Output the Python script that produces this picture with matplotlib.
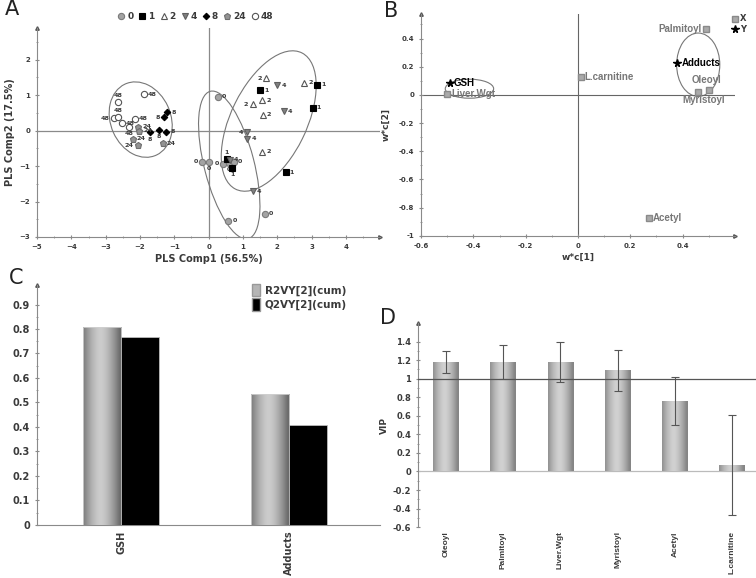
import numpy as np
import matplotlib
matplotlib.use('Agg')
import matplotlib.pyplot as plt
from matplotlib.patches import Ellipse, Patch
from matplotlib.lines import Line2D

plt.rcParams['font.family'] = 'DejaVu Sans'

# ---- panel A: PLS scores, one list per time group
groups = ['0', '1', '2', '4', '8', '24', '48']
score_x = {
    '0': [0.27, -0.18, 0.0, 0.42, 0.58, 0.73, 0.57, 1.64],
    '1': [1.49, 3.16, 3.03, 0.53, 0.69, 2.24],
    '2': [1.68, 2.79, 1.56, 1.28, 1.57, 1.56],
    '4': [2.0, 2.19, 1.13, 1.13, 1.29, 0.62],
    '8': [-1.2, -1.3, -1.7, -1.45, -1.24],
    '24': [-2.06, -2.03, -2.21, -2.06, -1.34],
    '48': [-1.89, -2.64, -2.77, -2.64, -2.53, -2.32, -2.15],
}
score_y = {
    '0': [0.95, -0.88, -0.88, -0.93, -0.92, -0.88, -2.54, -2.34],
    '1': [1.14, 1.29, 0.65, -0.8, -1.05, -1.17],
    '2': [1.47, 1.35, 0.86, 0.74, 0.45, -0.6],
    '4': [1.28, 0.54, -0.05, -0.23, -1.71, -0.82],
    '8': [0.52, 0.38, -0.05, 0.03, -0.03],
    '24': [0.11, 0.0, -0.23, -0.41, -0.35],
    '48': [1.03, 0.80, 0.35, 0.38, 0.2, 0.1, 0.33],
}

# ---- panel B: loadings w*c
x_names = ['Palmitoyl', 'Oleoyl', 'Myristoyl', 'L.carnitine', 'Liver.Wgt', 'Acetyl']
x_w1 = [0.49, 0.50, 0.46, 0.01, -0.50, 0.27]
x_w2 = [0.47, 0.035, 0.023, 0.125, 0.005, -0.87]
y_names = ['Adducts', 'GSH']
y_w1 = [0.38, -0.49]
y_w2 = [0.225, 0.083]

# ---- panel C: explained variance
resp = ['GSH', 'Adducts']
r2vy = [0.808, 0.535]
q2vy = [0.767, 0.408]

# ---- panel D: VIP
vip_names = ['Oleoyl', 'Palmitoyl', 'Liver.Wgt', 'Myristoyl', 'Acetyl', 'L.carnitine']
vip = [1.18, 1.18, 1.18, 1.09, 0.76, 0.07]
vip_err = [0.12, 0.18, 0.22, 0.22, 0.26, 0.54]

GRAY = '#8a8a8a'
TXT = '#3a3a3a'


def arrow_axes(ax, bottom=True):
    for s in ['top', 'right']:
        ax.spines[s].set_visible(False)
    ax.spines['left'].set_color(GRAY)
    ax.spines['bottom'].set_color(GRAY)
    ax.plot(0, 1, '^', color='#555', ms=2.5, transform=ax.transAxes, clip_on=False)
    if bottom:
        ax.plot(1, 0, '>', color='#555', ms=2.5, transform=ax.transAxes, clip_on=False)
    else:
        ax.spines['bottom'].set_visible(False)
    ax.tick_params(which='both', color=GRAY, direction='inout')
    ax.tick_params(which='major', length=3)
    ax.tick_params(which='minor', length=2)


def shade_bars(ax, bars, lo, hi):
    prof = np.abs(np.linspace(-1, 1, 64) + 0.1)
    grad = (hi - (hi - lo) * np.clip(prof, 0, 1) ** 1.6)[None, :]
    for b in bars:
        x, y, w, h = b.get_x(), b.get_y(), b.get_width(), b.get_height()
        im = ax.imshow(grad, cmap='gray', vmin=0, vmax=1, extent=[x, x + w, y, y + h],
                       aspect='auto', zorder=b.get_zorder() - 0.1, interpolation='bicubic')
        im.set_clip_path(b)


fig = plt.figure(figsize=(7.56, 5.78), dpi=100)

# ================= A
axA = fig.add_axes([0.049, 0.590, 0.454, 0.362])
arrow_axes(axA)
styles = {
    '0': dict(marker='o', mfc='#a3a3a3', mec='#7a7a7a', ms=4.5),
    '1': dict(marker='s', mfc='black', mec='black', ms=4.2),
    '2': dict(marker='^', mfc='white', mec='#555555', ms=4.5),
    '4': dict(marker='v', mfc='#808080', mec='#606060', ms=4.5),
    '8': dict(marker='D', mfc='black', mec='black', ms=3.3),
    '24': dict(marker='p', mfc='#939393', mec='#6e6e6e', ms=5),
    '48': dict(marker='o', mfc='white', mec='#555555', ms=4.5),
}
left_lab = {('0', 1), ('0', 3), ('2', 0), ('2', 3), ('4', 2), ('48', 2),
            ('8', 1), ('24', 3)}
below_lab = {('8', 2), ('8', 3), ('0', 2), ('0', 4), ('1', 4), ('48', 5)}
above_lab = {('1', 3), ('48', 1), ('48', 3)}
handles = []
for g in groups:
    axA.plot(score_x[g], score_y[g], ls='none', mew=0.8, zorder=3, **styles[g])
    handles.append(Line2D([], [], ls='none', mew=0.8, label=g, **styles[g]))
    for i, (px, py) in enumerate(zip(score_x[g], score_y[g])):
        if (g, i) in left_lab:
            off, ha, va = (-3, 0), 'right', 'center'
        elif (g, i) in below_lab:
            off, ha, va = (0, -3), 'center', 'top'
        elif (g, i) in above_lab:
            off, ha, va = (0, 3), 'center', 'bottom'
        else:
            off, ha, va = (3, 0), 'left', 'center'
        axA.annotate(g, (px, py), xytext=off, textcoords='offset points',
                     ha=ha, va=va, fontsize=4.6, color=TXT, fontweight='bold')

for c, w, h, a in [((-1.98, 0.31), 1.75, 2.2, 25), ((0.6, -0.97), 1.45, 4.3, 15),
                   ((1.75, 0.27), 2.2, 4.3, -27)]:
    axA.add_patch(Ellipse(c, w, h, angle=a, fill=False, ec='#777777', lw=0.8, zorder=2))

axA.axhline(0, color=GRAY, lw=0.9, zorder=1)
axA.axvline(0, color=GRAY, lw=0.9, zorder=1)
axA.set_xlim(-5, 5.0)
axA.set_ylim(-3, 2.9)
axA.set_xticks(np.arange(-5, 5, 1))
axA.set_yticks(np.arange(-3, 3, 1))
axA.set_xticks(np.arange(-5, 5, 0.5), minor=True)
axA.set_yticks(np.arange(-3, 2.9, 0.5), minor=True)
axA.tick_params(labelsize=5, labelcolor=TXT)
for t in axA.get_xticklabels() + axA.get_yticklabels():
    t.set_fontweight('bold')
axA.set_xlabel('PLS Comp1 (56.5%)', fontsize=7, fontweight='bold', color=TXT, labelpad=3)
axA.set_ylabel('PLS Comp2 (17.5%)', fontsize=7, fontweight='bold', color=TXT, labelpad=3)
fig.legend(handles=handles, loc='center', bbox_to_anchor=(0.258, 0.972), ncol=7,
           frameon=False, handletextpad=0.15, columnspacing=0.5, handlelength=1.0,
           prop=dict(size=6.5, weight='bold'), labelcolor=TXT)

# ================= B
axB = fig.add_axes([0.557, 0.592, 0.415, 0.384])
arrow_axes(axB)
axB.plot(x_w1, x_w2, ls='none', marker='s', mfc='#aaaaaa', mec='#8a8a8a', ms=4.5, zorder=3)
axB.plot(y_w1, y_w2, ls='none', marker='*', color='black', ms=5.5, zorder=3)
bfont = dict(family='Liberation Sans', fontweight='bold', fontsize=7)
xl_pos = {'Palmitoyl': (-3, 0, 'right', 'center'), 'Oleoyl': (-12, 7, 'left', 'center'),
          'Myristoyl': (4, -6, 'center', 'center'), 'L.carnitine': (3, 0, 'left', 'center'),
          'Liver.Wgt': (3, 0, 'left', 'center'), 'Acetyl': (3, 0, 'left', 'center')}
for n, px, py in zip(x_names, x_w1, x_w2):
    dx, dy, ha, va = xl_pos[n]
    axB.annotate(n, (px, py), xytext=(dx, dy), textcoords='offset points', ha=ha, va=va,
                 color='#777777', **bfont)
for n, px, py in zip(y_names, y_w1, y_w2):
    axB.annotate(n, (px, py), xytext=(3, 0), textcoords='offset points', ha='left',
                 va='center', color='black', **bfont)
axB.add_patch(Ellipse((-0.415, 0.044), 0.185, 0.135, fill=False, ec='#777777', lw=0.8))
axB.add_patch(Ellipse((0.46, 0.214), 0.165, 0.45, fill=False, ec='#777777', lw=0.8))
axB.axhline(0, color='#666666', lw=0.8, zorder=1)
axB.axvline(0, color='#666666', lw=0.8, zorder=1)
axB.set_xlim(-0.6, 0.6)
axB.set_ylim(-1, 0.575)
axB.set_xticks([-0.6, -0.4, -0.2, 0, 0.2, 0.4])
axB.set_xticklabels(['-0.6', '-0.4', '-0.2', '0', '0.2', '0.4'])
axB.set_yticks([-1, -0.8, -0.6, -0.4, -0.2, 0, 0.2, 0.4])
axB.set_yticklabels(['-1', '-0.8', '-0.6', '-0.4', '-0.2', '0', '0.2', '0.4'])
axB.set_xticks(np.arange(-0.6, 0.6, 0.1), minor=True)
axB.set_yticks(np.arange(-1, 0.55, 0.1), minor=True)
axB.tick_params(labelsize=5, labelcolor=TXT)
for t in axB.get_xticklabels() + axB.get_yticklabels():
    t.set_fontweight('bold')
axB.set_xlabel('w*c[1]', fontsize=6.5, fontweight='bold', color=TXT, labelpad=3)
axB.set_ylabel('w*c[2]', fontsize=6.5, fontweight='bold', color=TXT, labelpad=6)
hB = [Line2D([], [], ls='none', marker='s', mfc='#aaaaaa', mec='#8a8a8a', ms=4.5, label='X'),
      Line2D([], [], ls='none', marker='*', color='black', ms=5.5, label='Y')]
fig.legend(handles=hB, loc='upper right', bbox_to_anchor=(0.997, 0.988), frameon=False,
           handletextpad=0.2, handlelength=0.8, labelspacing=0.2,
           prop=dict(size=6, weight='bold'), labelcolor=TXT)

# ================= C
axC = fig.add_axes([0.049, 0.092, 0.454, 0.415])
arrow_axes(axC, bottom=False)
axC.spines['bottom'].set_visible(True)
xc = np.arange(len(resp))
bw = 0.226
b1 = axC.bar(xc - bw / 2, r2vy, bw, facecolor='none', edgecolor='#d0d0d0', lw=0.6, zorder=3)
shade_bars(axC, b1, 0.42, 0.80)
axC.bar(xc + bw / 2, q2vy, bw, color='black', edgecolor='#bbbbbb', lw=0.6, zorder=3)
axC.set_xlim(-0.5, 1.54)
axC.set_ylim(0, 0.98)
axC.set_yticks(np.arange(0, 0.95, 0.1))
axC.set_yticklabels(['0', '0.1', '0.2', '0.3', '0.4', '0.5', '0.6', '0.7', '0.8', '0.9'])
axC.set_yticks(np.arange(0, 0.95, 0.05), minor=True)
axC.set_xticks(xc)
axC.set_xticklabels(resp, rotation=90)
axC.tick_params(axis='x', length=0, pad=4)
axC.tick_params(labelsize=7, labelcolor=TXT)
for t in axC.get_xticklabels() + axC.get_yticklabels():
    t.set_fontweight('bold')
hC = [Patch(facecolor='#b5b5b5', edgecolor='#999999', label='R2VY[2](cum)'),
      Patch(facecolor='black', edgecolor='#999999', label='Q2VY[2](cum)')]
axC.legend(handles=hC, loc='upper left', bbox_to_anchor=(0.6, 1.045), frameon=False,
           handlelength=0.7, handleheight=1.5, handletextpad=0.5, labelspacing=0.2,
           prop=dict(size=7.5, weight='bold'), labelcolor=TXT)

# ================= D
axD = fig.add_axes([0.553, 0.088, 0.447, 0.353])
arrow_axes(axD, bottom=False)
xd = np.arange(len(vip_names))
b2 = axD.bar(xd, vip, 0.45, facecolor='none', edgecolor='none', zorder=3)
shade_bars(axD, b2, 0.52, 0.82)
axD.errorbar(xd, vip, yerr=vip_err, fmt='none', ecolor='#555555', elinewidth=0.8,
             capsize=3, capthick=0.8, zorder=4)
axD.axhline(1, color='#555555', lw=0.9, zorder=5)
axD.axhline(0, color='#bbbbbb', lw=0.9, zorder=2)
axD.set_xlim(-0.49, 5.42)
axD.set_ylim(-0.6, 1.6)
axD.set_yticks(np.arange(-0.6, 1.5, 0.2))
axD.set_yticklabels(['-0.6', '-0.4', '-0.2', '0', '0.2', '0.4', '0.6', '0.8', '1', '1.2', '1.4'])
axD.set_yticks(np.arange(-0.6, 1.5, 0.1), minor=True)
axD.set_xticks(xd)
axD.set_xticklabels(vip_names, rotation=90, family='Liberation Sans')
axD.tick_params(axis='x', length=0, pad=3)
axD.tick_params(labelsize=6, labelcolor=TXT)
for t in axD.get_xticklabels() + axD.get_yticklabels():
    t.set_fontweight('bold')
axD.set_ylabel('VIP', fontsize=6.5, fontweight='bold', color=TXT, labelpad=3)

# panel letters
for s, x, y in [('A', 0.006, 0.984), ('B', 0.508, 0.981), ('C', 0.012, 0.519), ('D', 0.502, 0.450)]:
    fig.text(x, y, s, fontsize=15, color='#222222', va='center')

fig.savefig('out.png', dpi=100)
